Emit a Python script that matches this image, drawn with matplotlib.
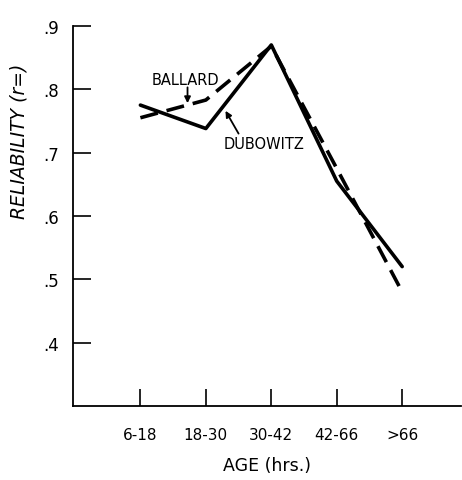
import matplotlib.pyplot as plt

# Age groups and reliability coefficients
ages = ["6-18", "18-30", "30-42", "42-66", ">66"]
ballard = [0.755, 0.783, 0.868, 0.675, 0.48]
dubowitz = [0.775, 0.738, 0.870, 0.655, 0.52]
yticks = [0.4, 0.5, 0.6, 0.7, 0.8, 0.9]
ytick_labels = [".4", ".5", ".6", ".7", ".8", ".9"]

x = list(range(len(ages)))

fig = plt.figure(figsize=(4.62, 4.81), dpi=100)
ax = fig.add_axes([0.158, 0.154, 0.84, 0.79])

ax.plot(x, dubowitz, color="black", linewidth=2.6, solid_capstyle="round")
ax.plot(x, ballard, color="black", linewidth=2.6, dashes=(5, 2.5))

# labels with small arrows pointing at the lines
ax.text(0.69, 0.816, "BALLARD", ha="center", va="center", fontsize=10.5)
ax.annotate("", xy=(0.72, 0.778), xytext=(0.72, 0.803),
            arrowprops=dict(arrowstyle="-|>", color="black", lw=1.3,
                            mutation_scale=9, shrinkA=0, shrinkB=0))
ax.text(1.885, 0.714, "DUBOWITZ", ha="center", va="center", fontsize=10.5)
ax.annotate("", xy=(1.30, 0.766), xytext=(1.50, 0.730),
            arrowprops=dict(arrowstyle="-|>", color="black", lw=1.3,
                            mutation_scale=9, shrinkA=0, shrinkB=0))

ax.set_xlim(-1.03, 4.9)
ax.set_ylim(0.3, 0.9)
ax.set_xticks(x)
ax.set_xticklabels(ages)
ax.set_yticks(yticks)
ax.set_yticklabels(ytick_labels)

ax.spines["top"].set_visible(False)
ax.spines["right"].set_visible(False)
ax.spines["left"].set_linewidth(1.3)
ax.spines["bottom"].set_linewidth(1.3)

ax.tick_params(axis="y", direction="in", length=13, width=1.2, pad=10, labelsize=12)
ax.tick_params(axis="x", direction="in", length=12, width=1.2, pad=15, labelsize=11)

ax.set_xlabel("AGE (hrs.)", fontsize=12.5, labelpad=10)
ax.set_ylabel("RELIABILITY (r=)", fontsize=13.5, style="italic")
ax.yaxis.set_label_coords(-0.115, 0.70)

fig.savefig("out.png", dpi=100)
